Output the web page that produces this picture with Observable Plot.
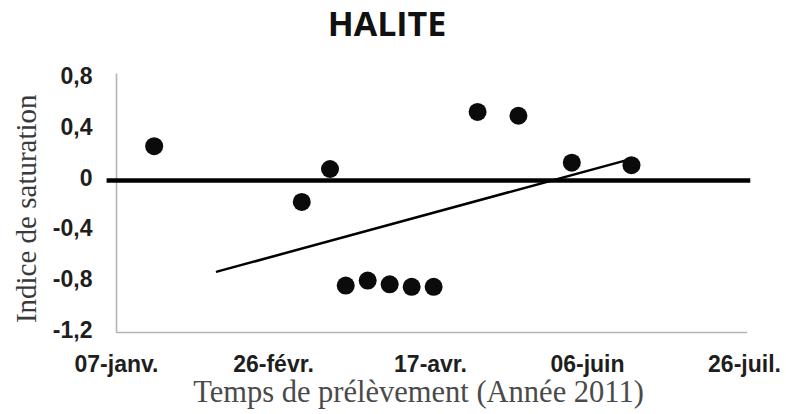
<!DOCTYPE html>
<html>
<head>
<meta charset="utf-8">
<script src="https://cdn.jsdelivr.net/npm/d3@7"></script>
<script src="https://cdn.jsdelivr.net/npm/@observablehq/plot@0.6"></script>
<style>
  html, body { margin: 0; padding: 0; background: #fff; }
  #title { width: 774px; height: 50px; line-height: 46px; text-align: center;
           font-family: "Open Sans", sans-serif; font-weight: bold; font-size: 34px; color: #111; }
  svg { display: block; }
</style>
</head>
<body>
<div id="title">HALITE</div>
<div id="chart"></div>
<script>
// ---- data ----
const xTickDates = ["2011-01-07", "2011-02-26", "2011-04-17", "2011-06-06", "2011-07-26"];
const xTickLabels = ["07-janv.", "26-févr.", "17-avr.", "06-juin", "26-juil."];
const yTicks = [-1.2, -0.8, -0.4, 0, 0.4, 0.8];
const yTickLabels = ["-1,2", "-0,8", "-0,4", "0", "0,4", "0,8"];
const sampleDates = ["2011-01-19", "2011-03-07", "2011-03-16", "2011-03-21", "2011-03-28", "2011-04-04",
                     "2011-04-11", "2011-04-18", "2011-05-02", "2011-05-15", "2011-06-01", "2011-06-20"];
const saturationIndex = [0.27, -0.17, 0.09, -0.83, -0.79, -0.82, -0.84, -0.84, 0.54, 0.51, 0.14, 0.12];
const trendDates = ["2011-02-08", "2011-06-20"];
const trendValues = [-0.72, 0.17];
const zeroLineDates = ["2011-01-04", "2011-07-28"];
const axisDates = ["2011-01-07", "2011-07-27"];
const yDomain = [-1.2, 0.8];
const yAxisTop = 0.84;
const xTitle = "Temps de prélèvement (Année 2011)";
const yTitle = "Indice de saturation";

// ---- build ----
const toDate = s => new Date(s);
const samples = sampleDates.map((d, i) => ({date: toDate(d), value: saturationIndex[i]}));
const trend = trendDates.map((d, i) => ({date: toDate(d), value: trendValues[i]}));
const xLabelMap = new Map(xTickDates.map((d, i) => [+toDate(d), xTickLabels[i]]));
const yLabelMap = new Map(yTicks.map((v, i) => [v, yTickLabels[i]]));

const chart = Plot.plot({
  width: 786,
  height: 364,
  marginLeft: 116,
  marginRight: 42,
  marginTop: 28.5,
  marginBottom: 82,
  x: {type: "utc", domain: [toDate(xTickDates[0]), toDate(xTickDates[xTickDates.length - 1])]},
  y: {domain: yDomain},
  marks: [
    Plot.ruleY([{y: yDomain[0], x1: toDate(axisDates[0]), x2: toDate(axisDates[1])}],
      {y: "y", x1: "x1", x2: "x2", stroke: "#b4b4b4", strokeWidth: 1.6}),
    Plot.ruleX([{x: toDate(axisDates[0]), y1: yDomain[0], y2: yAxisTop}],
      {x: "x", y1: "y1", y2: "y2", stroke: "#b4b4b4", strokeWidth: 1.6}),
    Plot.ruleY([{y: 0, x1: toDate(zeroLineDates[0]), x2: toDate(zeroLineDates[1])}],
      {y: "y", x1: "x1", x2: "x2", stroke: "#000", strokeWidth: 4.5}),
    Plot.line(trend, {x: "date", y: "value", stroke: "#000", strokeWidth: 2.5}),
    Plot.dot(samples, {x: "date", y: "value", r: 9, fill: "#0b0b0b", stroke: "none"}),
    Plot.axisX({
      ticks: xTickDates.map(toDate), tickSize: 0, tickPadding: 23,
      tickFormat: d => xLabelMap.get(+d), label: null,
      fontSize: 23, fontWeight: "bold", fontFamily: "Liberation Sans, Arial, sans-serif", fill: "#1e1e1e"
    }),
    Plot.axisY({
      ticks: yTicks, tickSize: 0, tickPadding: 24,
      tickFormat: d => yLabelMap.get(d), label: null, dy: -2,
      fontSize: 23, fontWeight: "bold", fontFamily: "Liberation Sans, Arial, sans-serif", fill: "#1e1e1e"
    }),
    Plot.text([xTitle], {
      frameAnchor: "bottom", textAnchor: "middle", dx: -12, dy: 60, lineAnchor: "middle", text: d => d,
      fontSize: 30.5, fontFamily: "Liberation Serif, Times New Roman, serif", fill: "#4a4a4a"
    }),
    Plot.text([yTitle], {
      frameAnchor: "left", textAnchor: "middle", dx: -90, dy: 3, rotate: -90, lineAnchor: "middle", text: d => d,
      fontSize: 29, fontFamily: "Liberation Serif, Times New Roman, serif", fill: "#3a3a3a"
    })
  ]
});
document.getElementById("chart").appendChild(chart);
</script>
</body>
</html>
